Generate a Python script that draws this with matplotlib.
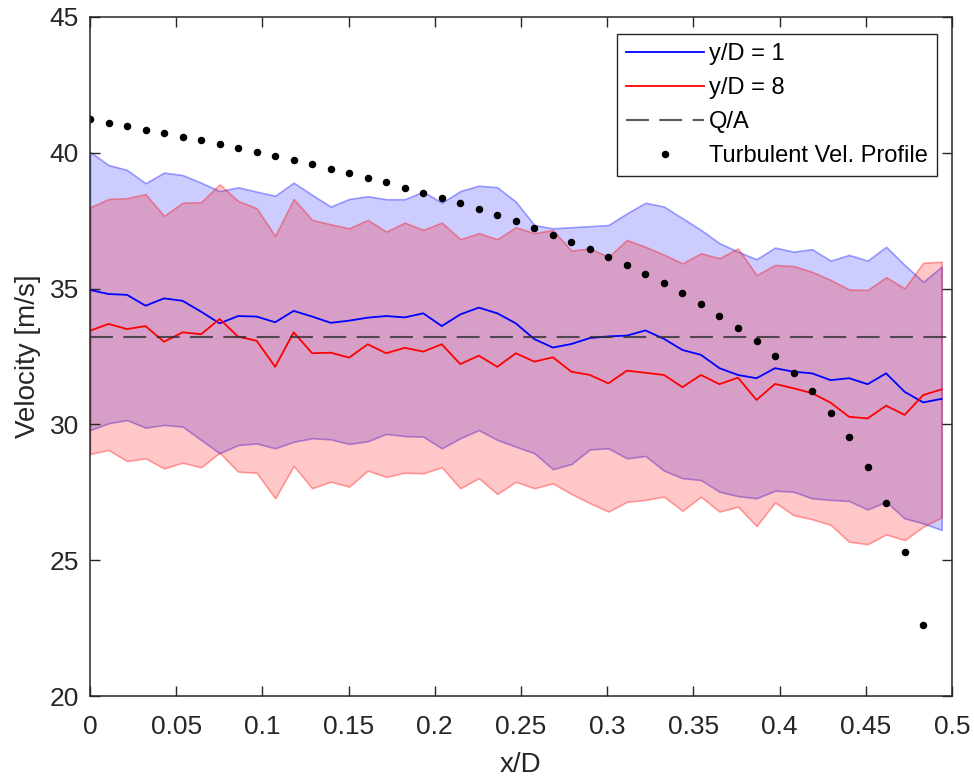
import numpy as np
import matplotlib
matplotlib.use("Agg")
import matplotlib.pyplot as plt
from matplotlib.ticker import FuncFormatter

plt.rcParams['font.family'] = ['Liberation Sans', 'DejaVu Sans']

# x/D stations (47 evenly spaced samples)
x_d = np.linspace(0, 0.494, 47)

# y/D = 1
blue_mean = [34.95, 34.80, 34.77, 34.37, 34.64, 34.55, 34.15, 33.72, 33.99, 33.97,
             33.76, 34.18, 33.97, 33.74, 33.82, 33.93, 33.99, 33.94, 34.09, 33.62,
             34.05, 34.30, 34.09, 33.72, 33.14, 32.83, 32.96, 33.18, 33.24, 33.27,
             33.46, 33.15, 32.74, 32.56, 32.07, 31.82, 31.70, 32.07, 31.94, 31.88,
             31.63, 31.70, 31.48, 31.88, 31.20, 30.81, 30.94]
blue_upper = [40.04, 39.55, 39.37, 38.88, 39.27, 39.18, 38.90, 38.59, 38.73, 38.57,
              38.42, 38.90, 38.45, 38.02, 38.30, 38.40, 38.29, 38.29, 38.57, 38.16,
              38.59, 38.79, 38.73, 38.20, 37.34, 37.22, 37.26, 37.30, 37.34, 37.77,
              38.16, 38.02, 37.59, 37.16, 36.67, 36.36, 36.08, 36.51, 36.36, 36.45,
              36.03, 36.24, 36.03, 36.54, 35.87, 35.25, 35.81]
blue_lower = [29.79, 30.04, 30.16, 29.88, 29.98, 29.92, 29.43, 28.94, 29.24, 29.30,
              29.12, 29.36, 29.49, 29.45, 29.28, 29.38, 29.65, 29.57, 29.55, 29.12,
              29.49, 29.79, 29.43, 29.18, 28.94, 28.35, 28.54, 29.08, 29.12, 28.75,
              28.84, 28.30, 28.02, 27.95, 27.52, 27.36, 27.28, 27.56, 27.52, 27.28,
              27.22, 27.18, 26.87, 27.15, 26.54, 26.36, 26.11]

# y/D = 8
red_mean = [33.45, 33.70, 33.51, 33.62, 33.04, 33.39, 33.32, 33.88, 33.23, 33.08,
            32.12, 33.39, 32.62, 32.64, 32.46, 32.95, 32.62, 32.82, 32.68, 32.95,
            32.22, 32.53, 32.12, 32.62, 32.31, 32.47, 31.94, 31.82, 31.51, 31.98,
            31.90, 31.82, 31.37, 31.82, 31.48, 31.72, 30.90, 31.49, 31.33, 31.15,
            30.80, 30.28, 30.22, 30.69, 30.35, 31.08, 31.29]
red_upper = [37.99, 38.30, 38.33, 38.48, 37.68, 38.16, 38.18, 38.84, 38.23, 37.96,
             36.94, 38.30, 37.53, 37.37, 37.22, 37.53, 37.10, 37.43, 37.16, 37.43,
             36.82, 37.04, 36.82, 37.26, 37.04, 37.16, 36.40, 36.48, 36.17, 36.79,
             36.54, 36.25, 35.93, 36.30, 36.12, 36.48, 35.50, 35.87, 35.83, 35.62,
             35.32, 34.97, 34.95, 35.42, 35.01, 35.95, 35.99]
red_lower = [28.91, 29.06, 28.65, 28.75, 28.38, 28.59, 28.42, 28.96, 28.26, 28.22,
             27.28, 28.47, 27.65, 27.89, 27.71, 28.30, 28.07, 28.22, 28.20, 28.42,
             27.65, 28.02, 27.44, 27.89, 27.65, 27.83, 27.44, 27.10, 26.79, 27.15,
             27.22, 27.34, 26.82, 27.34, 26.79, 26.97, 26.26, 27.13, 26.66, 26.51,
             26.30, 25.68, 25.59, 25.95, 25.74, 26.23, 26.58]

# bulk velocity Q/A
q_over_a = 33.2

# turbulent velocity profile (one fewer point, last one is off the axes)
turb_profile = [41.23, 41.11, 40.99, 40.85, 40.73, 40.59, 40.46, 40.32, 40.19, 40.04,
                39.89, 39.73, 39.58, 39.41, 39.25, 39.09, 38.91, 38.71, 38.53, 38.35,
                38.14, 37.93, 37.70, 37.48, 37.22, 36.97, 36.73, 36.46, 36.15, 35.86,
                35.54, 35.19, 34.83, 34.43, 34.00, 33.56, 33.06, 32.51, 31.89, 31.22,
                30.43, 29.53, 28.43, 27.10, 25.29, 22.61]

fig = plt.figure(figsize=(9.74, 7.81), dpi=100)
ax = fig.add_axes([90 / 974, 1 - 696 / 781, 862 / 974, 679 / 781])

# y/D = 1 band and mean
ax.fill_between(x_d, blue_lower, blue_upper, facecolor=(0, 0, 1, 0.2),
                edgecolor=(0, 0, 1, 0.35), linewidth=1.2)
ax.plot(x_d, blue_mean, color='b', linewidth=1.3, label='y/D = 1')

# y/D = 8 band and mean
ax.fill_between(x_d, red_lower, red_upper, facecolor=(1, 0, 0, 0.22),
                edgecolor=(1, 0, 0, 0.35), linewidth=1.2)
ax.plot(x_d, red_mean, color='r', linewidth=1.3, label='y/D = 8')

ax.axhline(q_over_a, color='#303030', linestyle=(0, (11, 5)), linewidth=1.5,
           alpha=0.8, label='Q/A')
ax.plot(x_d[:len(turb_profile)], turb_profile, 'o', color='k', markersize=4.4,
        linestyle='none', label='Turbulent Vel. Profile')

ax.set_xlim(0, 0.5)
ax.set_ylim(20, 45)
ax.set_xticks(np.arange(0, 0.501, 0.05))
ax.set_yticks(np.arange(20, 46, 5))
ax.xaxis.set_major_formatter(FuncFormatter(lambda v, p: '%g' % round(v, 2)))
ax.tick_params(direction='in', length=7, width=1, top=True, right=True,
               labelsize=19, colors='#262626', pad=8)
ax.tick_params(axis='x', pad=14)
for s in ax.spines.values():
    s.set_color('#262626')
    s.set_linewidth(1.1)

ax.set_xlabel('x/D', fontsize=20, color='#262626', labelpad=9)
ax.set_ylabel('Velocity [m/s]', fontsize=20, color='#262626', labelpad=6)

leg = ax.legend(loc='upper right', bbox_to_anchor=(0.9826, 0.975), fontsize=17,
                frameon=True, fancybox=False, edgecolor='#262626', framealpha=1,
                handlelength=3.3, handletextpad=0.2, borderpad=0.4,
                labelspacing=0.5, borderaxespad=0)
leg.get_frame().set_linewidth(1.0)

fig.savefig('out.png', dpi=100)
